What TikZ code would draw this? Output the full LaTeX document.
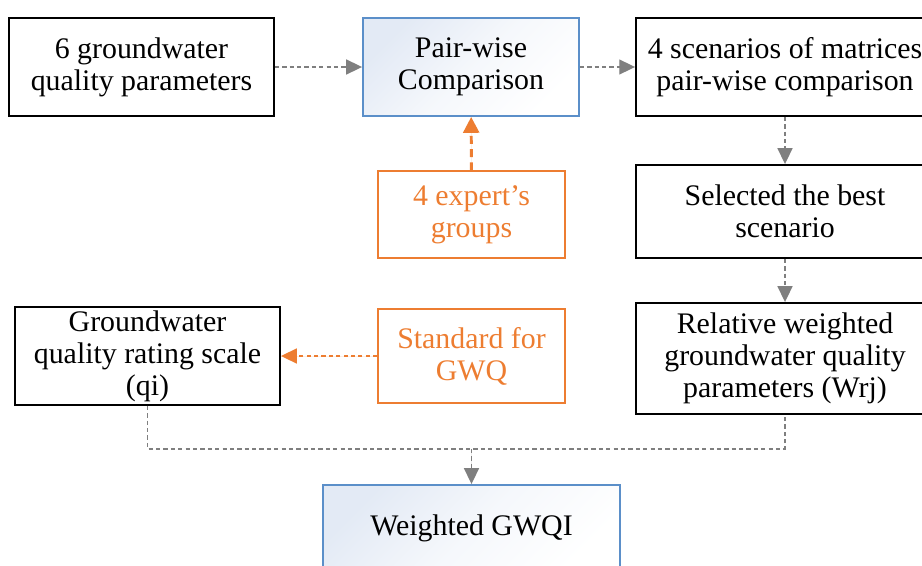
\documentclass[tikz,border=0pt]{standalone}
\usepackage{fontspec}
\setmainfont{Liberation Serif}
\usetikzlibrary{arrows.meta,positioning,shapes}
\definecolor{gwqorange}{HTML}{ED7D31}
\definecolor{gwqblue}{HTML}{5B8FC9}
\definecolor{gwqgray}{HTML}{7F7F7F}
\definecolor{gwqshade}{HTML}{E3EAF5}
\tikzset{>={Triangle[length=9pt,width=8.5pt]}}
\tikzset{
    box/.style={draw,line width=1.1pt,align=center,inner sep=1pt,
        font=\fontsize{17}{18.2}\selectfont},
    bluebox/.style={box,draw=gwqblue,top color=gwqshade,bottom color=white,
        middle color=gwqshade!35!white,shading angle=45},
    orangebox/.style={box,draw=gwqorange,line width=0.9pt,text=gwqorange},
    flow/.style={->,draw=gwqgray,fill=gwqgray,line width=0.8pt,dash pattern=on 2.4pt off 1.8pt},
    link/.style={draw=gwqgray,line width=0.8pt,dash pattern=on 2.4pt off 1.8pt},
    hint/.style={->,draw=gwqorange,fill=gwqorange,line width=0.8pt,dash pattern=on 2.4pt off 1.8pt}
}

\begin{document}
\begin{tikzpicture}[x=0.02cm,y=-0.02cm]
        \useasboundingbox (0,0) rectangle (922,565);
        % top row
        \node[box,minimum width=5.3cm,minimum height=1.96cm] (params) at (141.5,67) {6 groundwater\\quality parameters};
        \node[bluebox,minimum width=4.32cm,minimum height=1.96cm] (pair) at (471,67) {Pair-wise\\Comparison};
        \node[box,minimum width=5.96cm,minimum height=1.96cm] (scen) at (785,67) {4 scenarios of matrices\\pair-wise comparison};
        % middle
        \node[orangebox,minimum width=3.74cm,minimum height=1.74cm] (expert) at (471.5,214.5) {4 expert's\\groups};
        \node[box,minimum width=5.96cm,minimum height=1.86cm] (best) at (785,211.5) {Selected the best\\scenario};
        \node[box,minimum width=5.3cm,minimum height=1.96cm] (qrs) at (147.5,356) {Groundwater\\quality rating scale\\(qi)};
        \node[orangebox,minimum width=3.74cm,minimum height=1.88cm] (std) at (471.5,356) {Standard for\\GWQ};
        \node[box,minimum width=5.96cm,minimum height=2.22cm] (wrj) at (785,358.5) {Relative weighted\\groundwater quality\\parameters (Wrj)};
        % bottom
        \node[bluebox,minimum width=5.94cm,minimum height=1.72cm] (gwqi) at (471.5,528) {Weighted GWQI};
        \coordinate (jn) at (471.5,449);

        \path[flow] (params) edge (pair)
                    (pair) edge (scen)
                    (scen) edge (best)
                    (best) edge (wrj);
        \draw[link] (qrs.south) |- (jn) -| (wrj.south);
        \draw[flow] (jn) -- (gwqi.north);
        \draw[hint,line width=1.7pt,dash pattern=on 4.5pt off 3pt,
              >={Triangle[length=9pt,width=9pt]}] (expert) -- (pair);
        \draw[hint] (std) -- (qrs);
\end{tikzpicture}
\end{document}
